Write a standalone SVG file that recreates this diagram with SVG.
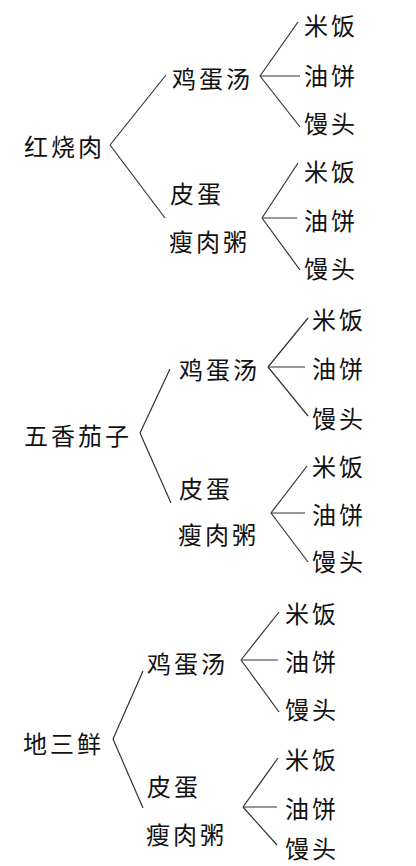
<svg xmlns="http://www.w3.org/2000/svg" width="416" height="866" viewBox="0 0 416 866">
<style>
text{font-family:"Noto Sans CJK SC","Noto Sans CJK TC",sans-serif;font-size:24px;fill:#111;letter-spacing:3px;dominant-baseline:central}
.c line{stroke:#333;stroke-width:1.2;fill:none}
</style>
<rect width="416" height="866" fill="#fff"/>
<g class="c" id="connectors">
<line x1="110" y1="145" x2="166" y2="75"/><line x1="110" y1="145" x2="165" y2="218"/>
<line x1="260" y1="76" x2="298" y2="22"/><line x1="260" y1="76" x2="300" y2="76"/><line x1="260" y1="76" x2="300" y2="127"/>
<line x1="262" y1="218" x2="298" y2="163"/><line x1="262" y1="218" x2="297" y2="218"/><line x1="262" y1="218" x2="300" y2="270"/>
<line x1="140" y1="433" x2="170" y2="369"/><line x1="140" y1="433" x2="171" y2="503"/>
<line x1="268" y1="367" x2="308" y2="318"/><line x1="268" y1="367" x2="305" y2="367"/><line x1="268" y1="367" x2="308" y2="416"/>
<line x1="271" y1="513" x2="307" y2="466"/><line x1="271" y1="513" x2="305" y2="513"/><line x1="271" y1="513" x2="308" y2="562"/>
<line x1="113" y1="739" x2="143" y2="671"/><line x1="113" y1="739" x2="143" y2="808"/>
<line x1="241" y1="660" x2="279" y2="612"/><line x1="241" y1="660" x2="278" y2="660"/><line x1="241" y1="660" x2="279" y2="712"/>
<line x1="243" y1="807" x2="278" y2="758"/><line x1="243" y1="807" x2="277" y2="807"/><line x1="243" y1="807" x2="277" y2="845"/>
</g>
<g id="t1-root"><text x="24" y="145">红烧肉</text></g>
<g id="t1-a"><text x="172" y="77">鸡蛋汤</text></g>
<g id="t1-a1"><text x="304" y="24">米饭</text></g>
<g id="t1-a2"><text x="304" y="74">油饼</text></g>
<g id="t1-a3"><text x="304" y="122">馒头</text></g>
<g id="t1-b"><text x="170" y="192">皮蛋</text><text x="169" y="240">瘦肉粥</text></g>
<g id="t1-b1"><text x="304" y="170">米饭</text></g>
<g id="t1-b2"><text x="304" y="219">油饼</text></g>
<g id="t1-b3"><text x="304" y="267">馒头</text></g>
<g id="t2-root"><text x="24" y="434">五香茄子</text></g>
<g id="t2-a"><text x="179" y="368">鸡蛋汤</text></g>
<g id="t2-a1"><text x="312" y="318">米饭</text></g>
<g id="t2-a2"><text x="312" y="367">油饼</text></g>
<g id="t2-a3"><text x="312" y="417">馒头</text></g>
<g id="t2-b"><text x="179" y="487">皮蛋</text><text x="178" y="533">瘦肉粥</text></g>
<g id="t2-b1"><text x="312" y="465">米饭</text></g>
<g id="t2-b2"><text x="312" y="513">油饼</text></g>
<g id="t2-b3"><text x="312" y="560">馒头</text></g>
<g id="t3-root"><text x="23" y="742">地三鲜</text></g>
<g id="t3-a"><text x="147" y="662">鸡蛋汤</text></g>
<g id="t3-a1"><text x="285" y="612">米饭</text></g>
<g id="t3-a2"><text x="285" y="660">油饼</text></g>
<g id="t3-a3"><text x="285" y="708">馒头</text></g>
<g id="t3-b"><text x="147" y="785">皮蛋</text><text x="146" y="833">瘦肉粥</text></g>
<g id="t3-b1"><text x="285" y="758">米饭</text></g>
<g id="t3-b2"><text x="285" y="807">油饼</text></g>
<g id="t3-b3"><text x="285" y="847">馒头</text></g>
</svg>
